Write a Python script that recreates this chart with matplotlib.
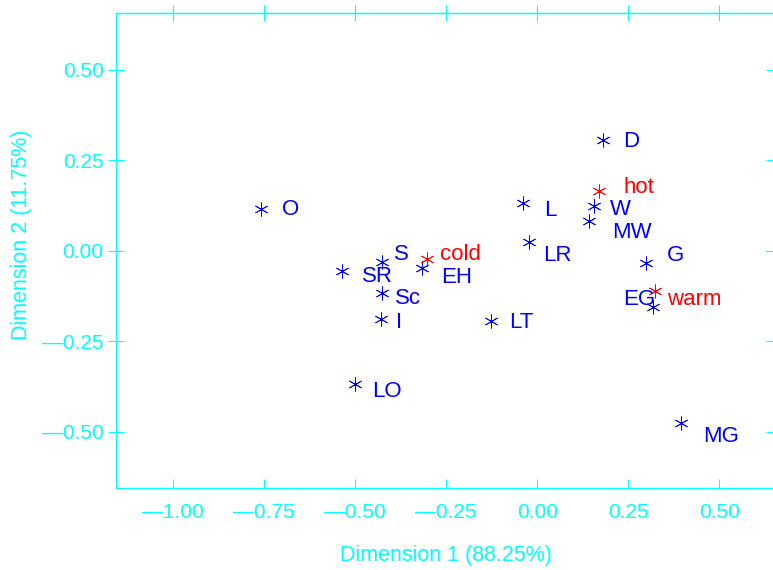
import matplotlib
matplotlib.use("Agg")
import matplotlib.pyplot as plt
from matplotlib.ticker import FuncFormatter

plt.rcParams['font.family'] = ['Liberation Sans', 'DejaVu Sans']

# Row categories (coordinates on the first two dimensions)
row_labels = ["O", "SR", "LO", "S", "Sc", "I", "EH", "LT", "L", "LR",
              "MW", "W", "D", "G", "EG", "MG"]
row_dim1 = [-0.758, -0.536, -0.500, -0.426, -0.426, -0.429, -0.316, -0.126,
            -0.038, -0.022, 0.143, 0.157, 0.181, 0.299, 0.319, 0.396]
row_dim2 = [0.116, -0.055, -0.367, -0.030, -0.116, -0.188, -0.047, -0.193,
            0.133, 0.025, 0.083, 0.124, 0.307, -0.033, -0.155, -0.475]

# Column categories
col_labels = ["cold", "hot", "warm"]
col_dim1 = [-0.302, 0.170, 0.324]
col_dim2 = [-0.022, 0.166, -0.110]

xticks = [-1.00, -0.75, -0.50, -0.25, 0.00, 0.25, 0.50]
yticks = [-0.50, -0.25, 0.00, 0.25, 0.50]
xlabel = "Dimension 1 (88.25%)"
ylabel = "Dimension 2 (11.75%)"

# Label placement: (dx, dy) in pixels from the marker to the text's left baseline
label_offsets = {
    "O": (21, -6), "SR": (20, -11), "LO": (17, -13), "S": (12, 2),
    "Sc": (13, -11), "I": (15, -9), "EH": (19, -15), "LT": (18, -7),
    "L": (21, -13), "LR": (14, -19), "MW": (23, -17), "W": (16, -9),
    "D": (20, -7), "G": (21, 2), "EG": (-30, 2), "MG": (22, -19),
    "cold": (13, -1), "hot": (24, -2), "warm": (12, -14),
}

CYAN = "#00FFFF"
BLUE = "#0000FF"
RED = "#FF0000"

fig = plt.figure(figsize=(7.73, 5.70), dpi=100)
ax = fig.add_axes([116 / 773, 1 - 488 / 570, 1 - 116 / 773, (488 - 13) / 570])

asterisk = (6, 2, 0)
ax.plot(row_dim1, row_dim2, linestyle="none", marker=asterisk, markersize=10,
        markeredgewidth=0.6, color=BLUE, markeredgecolor=BLUE)
ax.plot(col_dim1, col_dim2, linestyle="none", marker=asterisk, markersize=10,
        markeredgewidth=0.6, color=RED, markeredgecolor=RED)

for lab, x, y in zip(row_labels, row_dim1, row_dim2):
    dx, dy = label_offsets[lab]
    ax.annotate(lab, (x, y), xytext=(dx, dy), textcoords="offset pixels",
                ha="left", va="baseline", fontsize=16, color=BLUE)
for lab, x, y in zip(col_labels, col_dim1, col_dim2):
    dx, dy = label_offsets[lab]
    ax.annotate(lab, (x, y), xytext=(dx, dy), textcoords="offset pixels",
                ha="left", va="baseline", fontsize=16, color=RED)

ax.set_xlim(-1.157, 0.648)
ax.set_ylim(-0.655, 0.657)

fmt = FuncFormatter(lambda v, pos: f"{v:.2f}".replace("-", "\u2014"))
ax.set_xticks(xticks)
ax.set_yticks(yticks)
ax.xaxis.set_major_formatter(fmt)
ax.yaxis.set_major_formatter(fmt)

ax.tick_params(axis="x", direction="in", length=6.5, width=0.8, color=CYAN,
               labelcolor=CYAN, labelsize=15, pad=11)
ax.tick_params(axis="y", direction="inout", length=12, width=0.8, color=CYAN,
               labelcolor=CYAN, labelsize=15, pad=3)

for side in ["left", "bottom", "top"]:
    ax.spines[side].set_color(CYAN)
    ax.spines[side].set_linewidth(0.9)
ax.spines["right"].set_visible(False)

# Secondary axes carry the top and right tick marks
top = ax.secondary_xaxis("top")
top.set_xticks(xticks)
top.tick_params(direction="inout", length=12, width=0.8, color=CYAN,
                labeltop=False)
top.spines["top"].set_color(CYAN)
top.spines["top"].set_linewidth(0.9)

right = ax.secondary_yaxis("right")
right.set_yticks(yticks)
right.tick_params(direction="in", length=5, width=0.8, color=CYAN,
                  labelright=False)
right.spines["right"].set_visible(False)

ax.set_xlabel(xlabel, fontsize=15.5, color=CYAN, va="center")
ax.xaxis.set_label_coords((445.5 - 116) / 657, (488 - 556) / 475)
ax.set_ylabel(ylabel, fontsize=15.5, color=CYAN, va="center")
ax.yaxis.set_label_coords((22 - 116) / 657, (488 - 235) / 475)

fig.savefig("out.png", dpi=100)
